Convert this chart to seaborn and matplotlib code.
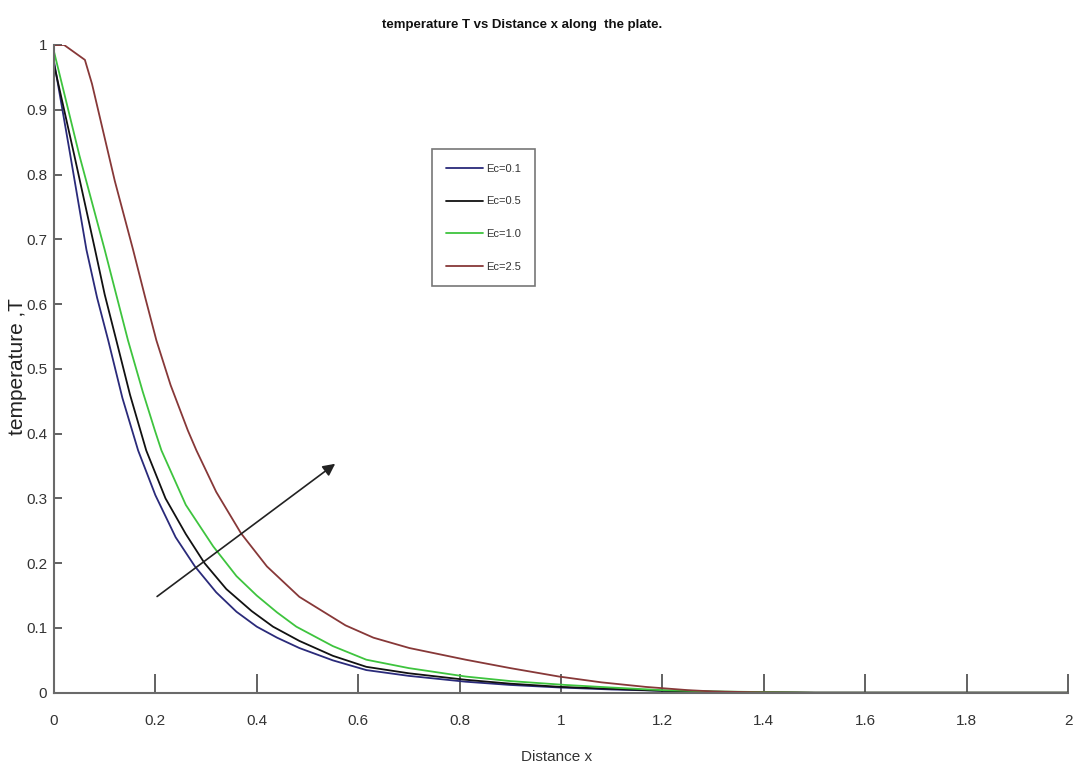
import numpy as np
import pandas as pd
import matplotlib
matplotlib.use("Agg")
import matplotlib.pyplot as plt
import seaborn as sns

# Temperature profiles T(x) along the plate for several Eckert numbers
x_ec01 = [0.0, 0.03, 0.064, 0.085, 0.107, 0.135, 0.166, 0.20, 0.24, 0.278, 0.32, 0.36, 0.40, 0.44,
          0.484, 0.55, 0.616, 0.70, 0.812, 0.90, 1.0, 1.1, 1.2, 1.3, 1.4, 1.5, 2.0]
t_ec01 = [0.975, 0.84, 0.684, 0.61, 0.544, 0.455, 0.374, 0.305, 0.24, 0.195, 0.155, 0.125, 0.102, 0.085,
          0.069, 0.05, 0.035, 0.026, 0.017, 0.012, 0.008, 0.005, 0.003, 0.0015, 0.0005, 0.0, 0.0]

x_ec05 = [0.0, 0.04, 0.081, 0.10, 0.123, 0.15, 0.182, 0.22, 0.26, 0.297, 0.34, 0.39, 0.432, 0.484,
          0.55, 0.616, 0.70, 0.812, 0.90, 1.0, 1.1, 1.2, 1.3, 1.4, 1.5, 2.0]
t_ec05 = [0.97, 0.83, 0.684, 0.615, 0.544, 0.46, 0.374, 0.30, 0.245, 0.20, 0.16, 0.126, 0.102, 0.08,
          0.057, 0.040, 0.03, 0.02, 0.014, 0.009, 0.006, 0.003, 0.0015, 0.0005, 0.0, 0.0]

x_ec10 = [0.0, 0.05, 0.10, 0.146, 0.175, 0.199, 0.212, 0.26, 0.314, 0.36, 0.40, 0.44, 0.478, 0.55,
          0.616, 0.70, 0.812, 0.90, 1.009, 1.1, 1.2, 1.3, 1.4, 1.5, 2.0]
t_ec10 = [0.99, 0.83, 0.684, 0.544, 0.465, 0.405, 0.374, 0.29, 0.226, 0.18, 0.15, 0.124, 0.102, 0.072,
          0.051, 0.038, 0.025, 0.018, 0.012, 0.008, 0.004, 0.002, 0.001, 0.0, 0.0]

x_ec25 = [0.0, 0.02, 0.061, 0.075, 0.09, 0.12, 0.156, 0.18, 0.202, 0.23, 0.264, 0.281, 0.32, 0.369,
          0.42, 0.484, 0.575, 0.63, 0.701, 0.812, 0.90, 0.996, 1.08, 1.167, 1.25, 1.3, 1.4, 1.5, 2.0]
t_ec25 = [1.0, 1.0, 0.977, 0.94, 0.89, 0.79, 0.684, 0.61, 0.544, 0.475, 0.405, 0.374, 0.31, 0.246,
          0.195, 0.148, 0.104, 0.085, 0.069, 0.051, 0.038, 0.025, 0.016, 0.009, 0.004, 0.002, 0.0005, 0.0, 0.0]

labels = ["Ec=0.1", "Ec=0.5", "Ec=1.0", "Ec=2.5"]
colors = ["#2a2a7a", "#111111", "#3ec43e", "#873838"]

x_ticks = [0, 0.2, 0.4, 0.6, 0.8, 1, 1.2, 1.4, 1.6, 1.8, 2]
y_ticks = [0, 0.1, 0.2, 0.3, 0.4, 0.5, 0.6, 0.7, 0.8, 0.9, 1]

frames = []
for lab, xs, ts in zip(labels, [x_ec01, x_ec05, x_ec10, x_ec25], [t_ec01, t_ec05, t_ec10, t_ec25]):
    frames.append(pd.DataFrame({"x": xs, "T": ts, "Ec": lab}))
df = pd.concat(frames, ignore_index=True)

sns.set_theme(style="ticks")
plt.rcParams["font.family"] = ["Liberation Sans", "DejaVu Sans"]

fig = plt.figure(figsize=(10.75, 7.78), dpi=100)
ax = fig.add_axes([0.0502, 0.1096, 0.9433, 0.8326])

sns.lineplot(data=df, x="x", y="T", hue="Ec", hue_order=labels,
             palette=dict(zip(labels, colors)), sort=False, estimator=None,
             linewidth=1.3, ax=ax)

ax.set_xlim(0, 2)
ax.set_ylim(0, 1)
ax.set_xticks(x_ticks)
ax.set_yticks(y_ticks)
ax.set_xticklabels([f"{v:g}" for v in x_ticks])
ax.set_yticklabels([f"{v:g}" for v in y_ticks])

for side in ["top", "right"]:
    ax.spines[side].set_visible(False)
for side in ["left", "bottom"]:
    ax.spines[side].set_color("#6a6a6a")
    ax.spines[side].set_linewidth(1.5)

ax.tick_params(axis="x", direction="in", length=14, width=1.3, color="#555555",
               pad=15, labelsize=11, labelcolor="#333333")
ax.tick_params(axis="y", direction="in", length=6, width=1.3, color="#555555",
               pad=5, labelsize=11, labelcolor="#333333")

ax.set_xlabel("Distance x", fontsize=11, color="#333333")
ax.xaxis.set_label_coords(0.496, -0.088)
ax.set_ylabel("temperature ,T", fontsize=15, color="#222222")
ax.yaxis.set_label_coords(-0.027, 0.503)

fig.text(0.486, 0.968, "temperature T vs Distance x along  the plate.",
         ha="center", va="center", fontsize=9.5, fontweight="bold", color="#111111")

# Arrow indicating increasing Ec
ax.annotate("", xy=(0.559, 0.356), xytext=(0.199, 0.146),
            arrowprops=dict(arrowstyle="-|>", color="#222222", lw=1.2,
                            mutation_scale=18))

handles, labs = ax.get_legend_handles_labels()
if ax.get_legend() is not None:
    ax.get_legend().remove()
leg = ax.legend(handles, labs, loc="upper left", bbox_to_anchor=(0.3725, 0.839),
                borderaxespad=0, fontsize=8, handlelength=3.3, frameon=True,
                fancybox=False, edgecolor="#555555", labelspacing=2.05,
                borderpad=1.3, handletextpad=0.3)
leg.get_frame().set_linewidth(1.2)
for t in leg.get_texts():
    t.set_color("#333333")

fig.savefig("out.png", dpi=100, facecolor="white")
